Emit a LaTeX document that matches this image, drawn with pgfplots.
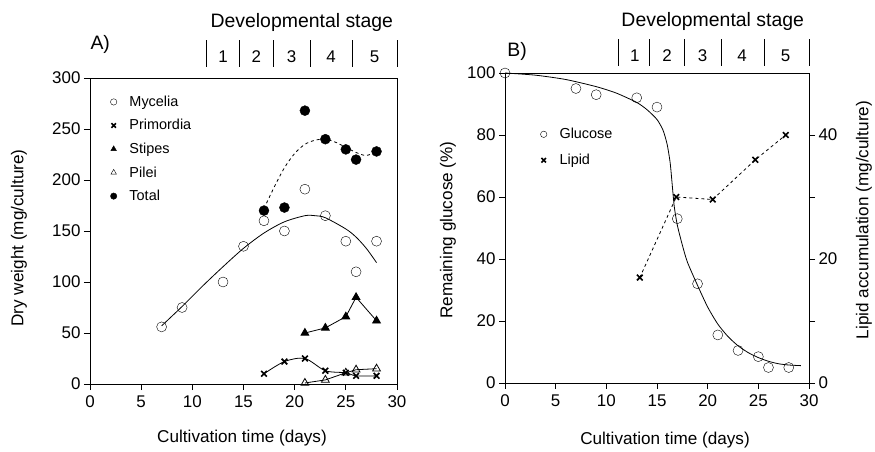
\documentclass[border=0pt]{standalone}
\usepackage{fontspec}
\setmainfont{Liberation Sans}
\usepackage{pgfplots}
\pgfplotsset{compat=1.18}

\pgfplotsset{
  panel/.style={
    scale only axis,
    anchor=origin,
    clip=false,
    axis line style={line width=0.9bp},
    every tick/.style={line width=0.9bp, black},
    tick align=outside,
    major tick length=6bp,
    xtick pos=bottom, ytick pos=left,
    xmin=0, xmax=30, xtick={0,5,...,30},
    tick label style={font=\fontsize{17}{19}\selectfont},
    /pgf/number format/assume math mode=true,
    xticklabel style={yshift=-2bp},
    legend style={draw=none, fill=none, font=\fontsize{14.5}{16}\selectfont,
      anchor=north west, cells={anchor=west}},
    legend image code/.code={\path (0cm,0cm) (0.6cm,0cm);
      \draw[##1] plot coordinates {(0.12cm,0cm)};},
    legend image post style={mark size=3.2bp},
    legend cell align=left,
  },
  fit/.style={black, line width=0.8bp, no marks},
}
\newcommand{\stagefont}{\fontsize{17}{19}\selectfont}
\newcommand{\titlefont}{\fontsize{19.5}{21}\selectfont}
\newcommand{\labfont}{\fontsize{17.2}{19}\selectfont}

\begin{document}
\begin{tikzpicture}
\path[use as bounding box] (0,0) rectangle (875bp,452bp);

% ---------------- Panel A ----------------
\begin{axis}[panel,
  at={(90bp,68bp)}, width=307bp, height=306bp,
  ymin=0, ymax=300, ytick={0,50,...,300},
  legend style={at={(axis description cs:0.055,0.955)}, row sep=7.6bp},
]
\addlegendimage{only marks, mark=o, black}
\addlegendentry{Mycelia}
\addlegendimage{only marks, mark=x, black, mark options={line width=1.6bp}}
\addlegendentry{Primordia}
\addlegendimage{only marks, mark=triangle*, black}
\addlegendentry{Stipes}
\addlegendimage{only marks, mark=triangle, black}
\addlegendentry{Pilei}
\addlegendimage{only marks, mark=*, black}
\addlegendentry{Total}

\addplot[forget plot, only marks, mark=o, mark size=5bp, black, thin] coordinates {
  (7,56)(9,75)(13,100)(15,135)(17,160)(19,150)(21,191)(23,165)(25,140)(26,110)(28,140)};
\addplot[forget plot, black, line width=0.8bp, mark=x, mark size=4bp, mark options={line width=1.6bp}, smooth, tension=0.5] coordinates {
  (17,10)(19,22)(21,25)(23,13)(25,11)(26,8)(28,8)};
\addplot[forget plot, black, line width=0.8bp, mark=triangle*, mark size=4.5bp] coordinates {
  (21,50)(23,55)(25,66)(26,85)(28,62)};
\addplot[forget plot, black, line width=0.8bp, mark=triangle, mark size=4.5bp, mark options={fill=white}] coordinates {
  (21,1)(23,4)(25,11)(26,14)(28,15)};
\addplot[forget plot, only marks, mark=*, mark size=5bp, black] coordinates {
  (17,170)(19,173)(21,268)(23,240)(25,230)(26,220)(28,228)};
% fitted curves
\addplot[fit, smooth, forget plot] coordinates {
  (7,57)(9,76)(11,96)(13,115)(15,133)(17,148)(19,159)(21,165)(22,165)(23,163)(25,152)(26,144)(27,133)(28,119)};
\addplot[fit, dashed, smooth, forget plot] coordinates {
  (17,172)(18,193)(19,212)(20,226)(21,235)(22,239)(23,240)(24,237)(25,232)(26,227)(27,224)(28,228)};
% stage bar
\draw[line width=0.9bp] (axis cs:11.4,311) -- (axis cs:11.4,337);
\draw[line width=0.9bp] (axis cs:14.6,311) -- (axis cs:14.6,337);
\draw[line width=0.9bp] (axis cs:17.9,311) -- (axis cs:17.9,337);
\draw[line width=0.9bp] (axis cs:21.5,311) -- (axis cs:21.5,337);
\draw[line width=0.9bp] (axis cs:25.6,311) -- (axis cs:25.6,337);
\draw[line width=0.9bp] (axis cs:30,311) -- (axis cs:30,337);
\node[font=\stagefont] at (axis cs:13.0,321) {1};
\node[font=\stagefont] at (axis cs:16.25,321) {2};
\node[font=\stagefont] at (axis cs:19.7,321) {3};
\node[font=\stagefont] at (axis cs:23.55,321) {4};
\node[font=\stagefont] at (axis cs:27.8,321) {5};
\node[font=\titlefont] at (axis cs:20.7,354) {Developmental stage};
\node[font=\titlefont] at (axis cs:1.0,333) {A)};
\end{axis}

% ---------------- Panel B ----------------
\begin{axis}[panel,
  at={(505bp,69bp)}, width=304bp, height=310bp,
  ymin=0, ymax=100, ytick={0,20,...,100},
  legend style={at={(axis description cs:0.105,0.835)}, row sep=10bp},
]
\addlegendimage{only marks, mark=o, black}
\addlegendentry{Glucose}
\addlegendimage{only marks, mark=x, black, mark options={line width=1.6bp}}
\addlegendentry{Lipid}
\addplot[forget plot, only marks, mark=o, mark size=5bp, black, thin] coordinates {
  (0,100)(7,95)(9,93)(13,92)(15,89)(17,53)(19,32)(21,15.5)(23,10.5)(25,8.5)(26,5)(28,5)};
\addplot[fit, smooth, tension=0.4, forget plot] coordinates {
  (0,100)(3,99.3)(6,97.9)(9,95.6)(11,93.5)(13,90.5)(14,88.2)(15,85)(15.6,81.5)(16,77)(16.3,71)(16.5,64)(16.7,57)(17,51)(17.5,44.5)(18,39)(19,31.5)(20,24.5)(21,19)(22,15)(23,12)(24,9.8)(25,8.2)(26,7)(27,6.2)(28,5.8)(29.2,5.6)};
% stage bar
\draw[line width=0.9bp] (axis cs:11.2,102.4) -- (axis cs:11.2,110.9);
\draw[line width=0.9bp] (axis cs:14.3,102.4) -- (axis cs:14.3,110.9);
\draw[line width=0.9bp] (axis cs:17.7,102.4) -- (axis cs:17.7,110.9);
\draw[line width=0.9bp] (axis cs:21.4,102.4) -- (axis cs:21.4,110.9);
\draw[line width=0.9bp] (axis cs:25.6,102.4) -- (axis cs:25.6,110.9);
\draw[line width=0.9bp] (axis cs:30,102.4) -- (axis cs:30,110.9);
\node[font=\stagefont] at (axis cs:12.8,105.6) {1};
\node[font=\stagefont] at (axis cs:16.0,105.6) {2};
\node[font=\stagefont] at (axis cs:19.5,105.6) {3};
\node[font=\stagefont] at (axis cs:23.4,105.6) {4};
\node[font=\stagefont] at (axis cs:27.7,105.6) {5};
\node[font=\titlefont] at (axis cs:20.5,116.5) {Developmental stage};
\node[font=\titlefont] at (axis cs:1.2,106.8) {B)};
\end{axis}

\begin{axis}[panel,
  at={(505bp,69bp)}, width=304bp, height=310bp,
  axis x line=none, axis y line*=right, ytick pos=right,
  ymin=0, ymax=50, ytick={0,10,...,40}, yticklabels={0,,20,,40},
]
\addplot[black, line width=0.8bp, dashed, mark=x, mark size=4bp, mark options={solid, line width=1.6bp}] coordinates {
  (13.3,17)(16.9,30)(20.5,29.6)(24.7,36)(27.7,40)};
\end{axis}

% axis titles
\node[font=\labfont] at (242bp,14bp) {Cultivation time (days)};
\node[font=\labfont] at (665bp,12bp) {Cultivation time (days)};
\node[font=\labfont, rotate=90] at (19bp,214bp) {Dry weight (mg/culture)};
\node[font=\labfont, rotate=90] at (448bp,222bp) {Remaining glucose (\%)};
\node[font=\labfont, rotate=90] at (864bp,232bp) {Lipid accumulation (mg/culture)};
\end{tikzpicture}
\end{document}
